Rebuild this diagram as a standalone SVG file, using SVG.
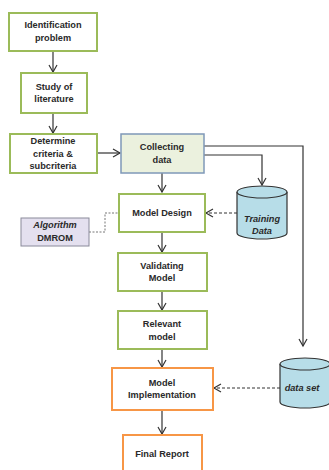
<svg xmlns="http://www.w3.org/2000/svg" width="329" height="470" viewBox="0 0 329 470">
<defs>
<marker id="arr" markerWidth="10" markerHeight="10" refX="8" refY="5" orient="auto" markerUnits="userSpaceOnUse">
<path d="M1,1 L8,5 L1,9" fill="none" stroke="#333" stroke-width="1.2"/>
</marker>
</defs>
<style>
text{font-family:"Liberation Sans",Arial,sans-serif;font-weight:bold;font-size:9.2px;fill:#2a2a2a;text-anchor:middle}
.g{fill:#fff;stroke:#9bbb59;stroke-width:2}
.o{fill:#fff;stroke:#f79646;stroke-width:2}
.c{fill:#ebf1de;stroke:#7f98b8;stroke-width:1.5}
.a{fill:#e4e0ef;stroke:#8a8a9a;stroke-width:1}
.cyl{fill:#b7dde8;stroke:#333;stroke-width:1.2}
.i{font-style:italic}
.ln{fill:none;stroke:#333;stroke-width:1.2}
.ds{fill:none;stroke:#333;stroke-width:1;stroke-dasharray:3,2}
.dg{fill:none;stroke:#777;stroke-width:1;stroke-dasharray:2,1.5}
</style>
<rect width="329" height="470" fill="#fff"/>
<g id="connectors">
<line class="ln" x1="53" y1="51" x2="53" y2="72" marker-end="url(#arr)"/>
<line class="ln" x1="53" y1="113" x2="53" y2="133" marker-end="url(#arr)"/>
<line class="ln" x1="97" y1="153" x2="120" y2="153" marker-end="url(#arr)"/>
<line class="ln" x1="162" y1="173" x2="162" y2="192" marker-end="url(#arr)"/>
<line class="ln" x1="162" y1="232" x2="162" y2="252" marker-end="url(#arr)"/>
<line class="ln" x1="162" y1="291" x2="162" y2="310" marker-end="url(#arr)"/>
<line class="ln" x1="162" y1="349" x2="162" y2="367" marker-end="url(#arr)"/>
<line class="ln" x1="162" y1="410" x2="162" y2="434" marker-end="url(#arr)"/>
<polyline class="ln" points="204,146 303,146 303,346" marker-end="url(#arr)"/>
<polyline class="ln" points="204,155 262,155 262,185" marker-end="url(#arr)"/>
<line class="ds" x1="237" y1="213" x2="206" y2="213" marker-end="url(#arr)"/>
<line class="ds" x1="280" y1="388" x2="214" y2="388" marker-end="url(#arr)"/>
<polyline class="dg" points="89,232 105,232 105,213 119,213"/>
</g>
<g id="identification">
<rect class="g" x="9" y="13" width="88" height="38"/>
<text x="53" y="28">Identification</text>
<text x="53" y="41">problem</text>
</g>
<g id="study">
<rect class="g" x="21" y="73" width="66" height="40"/>
<text x="54" y="90">Study of</text>
<text x="54" y="102">literature</text>
</g>
<g id="determine">
<rect class="g" x="10" y="134" width="87" height="39"/>
<text x="53" y="144">Determine</text>
<text x="53" y="157">criteria &amp;</text>
<text x="53" y="169">subcriteria</text>
</g>
<g id="collecting">
<rect class="c" x="121" y="134" width="83" height="39"/>
<text x="162" y="150">Collecting</text>
<text x="162" y="163">data</text>
</g>
<g id="training">
<path class="cyl" d="M237,192 L237,233 A25,6 0 0 0 287,233 L287,192"/>
<ellipse class="cyl" cx="262" cy="192" rx="25" ry="6"/>
<text class="i" x="262" y="222">Training</text>
<text class="i" x="262" y="234">Data</text>
</g>
<g id="algorithm">
<rect class="a" x="21" y="218" width="68" height="28"/>
<text class="i" x="55" y="228">Algorithm</text>
<text x="55" y="241">DMROM</text>
</g>
<g id="modeldesign">
<rect class="g" x="119" y="194" width="86" height="38"/>
<text x="162" y="216">Model Design</text>
</g>
<g id="validating">
<rect class="g" x="118" y="253" width="89" height="38"/>
<text x="162" y="269">Validating</text>
<text x="162" y="281">Model</text>
</g>
<g id="relevant">
<rect class="g" x="118" y="311" width="89" height="38"/>
<text x="162" y="327">Relevant</text>
<text x="162" y="340">model</text>
</g>
<g id="implementation">
<rect class="o" x="112" y="368" width="101" height="42"/>
<text x="162" y="386">Model</text>
<text x="162" y="398">Implementation</text>
</g>
<g id="dataset">
<path class="cyl" d="M280,364 L280,402 A25,6 0 0 0 330,402 L330,364"/>
<ellipse class="cyl" cx="305" cy="364" rx="25" ry="6"/>
<text class="i" x="302" y="391">data set</text>
</g>
<g id="final">
<rect class="o" x="123" y="435" width="79" height="40"/>
<text x="162" y="457">Final Report</text>
</g>
</svg>
